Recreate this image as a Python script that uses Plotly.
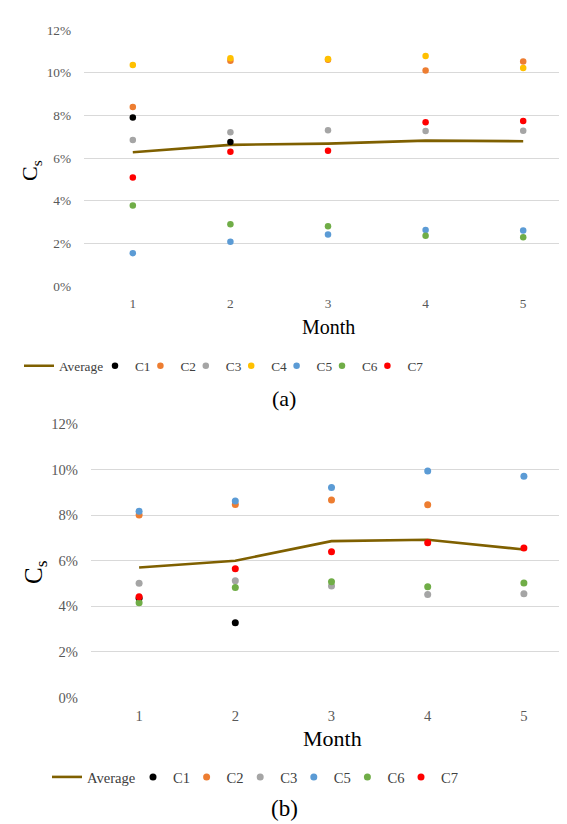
import plotly.graph_objects as go

months = [1, 2, 3, 4, 5]
month_labels = ["1", "2", "3", "4", "5"]
y_ticks = [0, 2, 4, 6, 8, 10, 12]
y_tick_labels = ["0%", "2%", "4%", "6%", "8%", "10%", "12%"]

# Panel (a) values in %
a_average = [6.27, 6.62, 6.68, 6.82, 6.79]
a_c1 = [7.91, 6.75, None, None, None]
a_c2 = [8.40, 10.57, 10.62, 10.11, 10.53]
a_c3 = [6.85, 7.21, 7.31, 7.27, 7.28]
a_c4 = [10.37, 10.69, 10.65, 10.79, 10.23]
a_c5 = [1.54, 2.07, 2.41, 2.63, 2.60]
a_c6 = [3.78, 2.89, 2.80, 2.35, 2.29]
a_c7 = [5.09, 6.30, 6.35, 7.68, 7.74]

# Panel (b) values in %
b_average = [5.70, 6.00, 6.86, 6.92, 6.49]
b_c1 = [4.35, 3.28, None, None, None]
b_c2 = [8.01, 8.47, 8.66, 8.45, None]
b_c3 = [5.01, 5.12, 4.89, 4.52, 4.55]
b_c5 = [8.17, 8.62, 9.21, 9.94, 9.71]
b_c6 = [4.16, 4.82, 5.08, 4.86, 5.02]
b_c7 = [4.42, 5.65, 6.39, 6.79, 6.56]

colors = {
    "Average": "#7F6000", "C1": "#000000", "C2": "#ED7D31", "C3": "#A5A5A5",
    "C4": "#FFC000", "C5": "#5B9BD5", "C6": "#70AD47", "C7": "#FF0000",
}

FONT = "Liberation Serif"
W, H = 567, 824


def px_x(v):
    return v / W


def px_y(v):
    return 1 - v / H


fig = go.Figure()
legends = {}
leg_counter = [0]


def new_legend(x_px, y_px, fs):
    leg_counter[0] += 1
    key = "legend" if leg_counter[0] == 1 else "legend%d" % leg_counter[0]
    legends[key] = dict(orientation="h", x=px_x(x_px), xanchor="left",
                        y=px_y(y_px), yanchor="middle",
                        bgcolor="rgba(0,0,0,0)", borderwidth=0,
                        font=dict(family=FONT, size=fs, color="#404040"))
    return key


def add_panel(avg, series, xa, ya, msize, fs, leg_y, avg_x, c_x0, c_step):
    fig.add_trace(go.Scatter(x=months, y=avg, mode="lines", name="Average",
                             line=dict(color=colors["Average"], width=2.6),
                             xaxis=xa, yaxis=ya,
                             legend=new_legend(avg_x, leg_y, fs)))
    for i, (name, vals) in enumerate(series):
        fig.add_trace(go.Scatter(x=months, y=vals, mode="markers", name=name,
                                 marker=dict(color=colors[name], size=msize),
                                 xaxis=xa, yaxis=ya,
                                 legend=new_legend(c_x0 + i * c_step, leg_y, fs)))


add_panel(a_average, [("C1", a_c1), ("C2", a_c2), ("C3", a_c3), ("C4", a_c4),
                      ("C5", a_c5), ("C6", a_c6), ("C7", a_c7)],
          "x", "y", 6.5, 13.3, 357, 11, 87, 45.4)
add_panel(b_average, [("C1", b_c1), ("C2", b_c2), ("C3", b_c3),
                      ("C5", b_c5), ("C6", b_c6), ("C7", b_c7)],
          "x2", "y2", 7, 14.6, 776, 39, 125, 53.6)


def xaxis(dom, anchor, fs):
    return dict(domain=dom, anchor=anchor, range=[0.5, 5.5], tickvals=months,
                ticktext=month_labels, showgrid=False, zeroline=False,
                showline=False, ticks="", ticklabelstandoff=8,
                tickfont=dict(family=FONT, size=fs, color="#595959"))


def yaxis(dom, anchor, fs):
    return dict(domain=dom, anchor=anchor, range=[0, 12], tickvals=y_ticks,
                ticktext=y_tick_labels, showgrid=True, gridcolor="#D9D9D9",
                gridwidth=1, zeroline=False, showline=False, ticks="",
                ticklabelstandoff=12,
                tickfont=dict(family=FONT, size=fs, color="#595959"))


fig.update_layout(
    width=W, height=H, autosize=False, showlegend=True,
    margin=dict(l=0, r=0, t=0, b=0),
    paper_bgcolor="white", plot_bgcolor="white",
    xaxis=xaxis([px_x(76), px_x(564)], "y", 13.3),
    yaxis=yaxis([px_y(275.3), px_y(14.5)], "x", 13.3),
    xaxis2=xaxis([px_x(83), px_x(564)], "y2", 14.6),
    yaxis2=yaxis([px_y(695), px_y(416)], "x2", 14.6),
    annotations=[
        dict(text="Month", x=px_x(320), y=px_y(317), xref="paper", yref="paper",
             showarrow=False, xanchor="center", yanchor="middle",
             font=dict(family=FONT, size=20, color="#000000")),
        dict(text="Month", x=px_x(324), y=px_y(737), xref="paper", yref="paper",
             showarrow=False, xanchor="center", yanchor="middle",
             font=dict(family=FONT, size=22, color="#000000")),
        dict(text="C<sub>s</sub>", x=px_x(23), y=px_y(158), xref="paper", yref="paper",
             showarrow=False, xanchor="center", yanchor="middle", textangle=-90,
             font=dict(family=FONT, size=22, color="#000000")),
        dict(text="C<sub>s</sub>", x=px_x(28), y=px_y(567), xref="paper", yref="paper",
             showarrow=False, xanchor="center", yanchor="middle", textangle=-90,
             font=dict(family=FONT, size=25, color="#000000")),
        dict(text="(a)", x=px_x(276), y=px_y(390), xref="paper", yref="paper",
             showarrow=False, xanchor="center", yanchor="middle",
             font=dict(family=FONT, size=22, color="#000000")),
        dict(text="(b)", x=px_x(276), y=px_y(808), xref="paper", yref="paper",
             showarrow=False, xanchor="center", yanchor="middle",
             font=dict(family=FONT, size=23, color="#000000")),
    ],
)
fig.update_layout(**legends)

fig.write_html("out.html")
